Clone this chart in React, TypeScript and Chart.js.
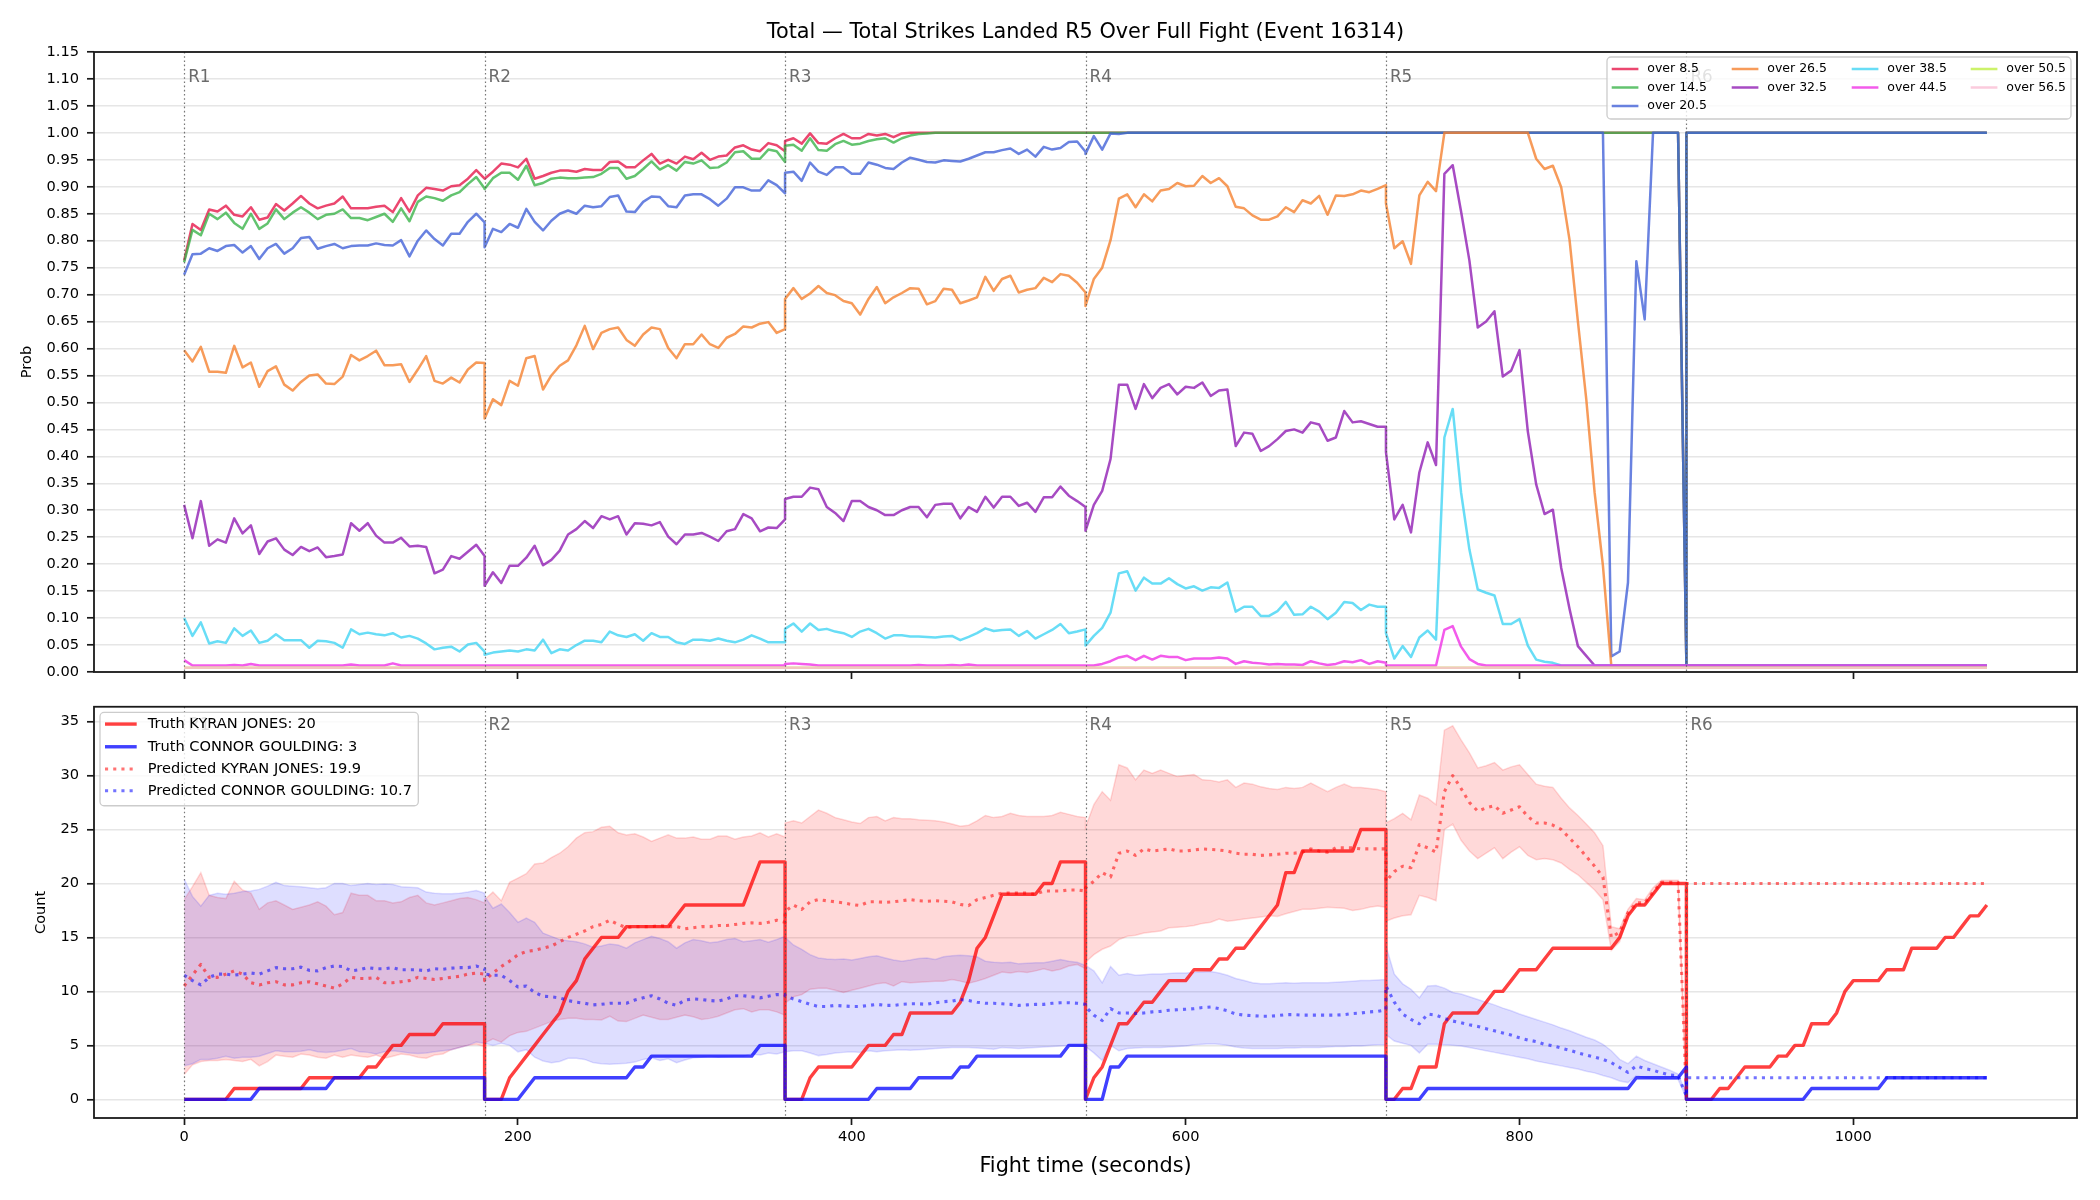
import React, { useEffect, useRef } from "react";
import { Chart, registerables } from "chart.js";

Chart.register(...registerables);

const FONT = "'DejaVu Sans', 'Liberation Sans', Arial, sans-serif";
Chart.defaults.font.family = FONT;
Chart.defaults.color = "#000";

// ---------------------------------------------------------------------------
// Fight timeline: each round is sampled every 5 s (37 samples incl. both ends)
// ---------------------------------------------------------------------------
const ROUND_STARTS = [0, 180, 360, 540, 720, 900];
const ROUND_LABELS = ["R1", "R2", "R3", "R4", "R5", "R6"];
const SAMPLE_STEP = 5;

const X_TICKS = [0, 200, 400, 600, 800, 1000];
const PROB_TICKS = [0, 0.05, 0.1, 0.15, 0.2, 0.25, 0.3, 0.35, 0.4, 0.45, 0.5, 0.55, 0.6, 0.65, 0.7, 0.75, 0.8, 0.85, 0.9, 0.95, 1, 1.05, 1.1, 1.15];
const COUNT_TICKS = [0, 5, 10, 15, 20, 25, 30, 35];

// Whole rounds where a line sits at a constant level
const SURE = [1, 1, 1, 1, 1, 1, 1, 1, 1, 1, 1, 1, 1, 1, 1, 1, 1, 1, 1, 1, 1, 1, 1, 1, 1, 1, 1, 1, 1, 1, 1, 1, 1, 1, 1, 1, 1];
const FLOOR = [0.012, 0.012, 0.012, 0.012, 0.012, 0.012, 0.012, 0.012, 0.012, 0.012, 0.012, 0.012, 0.012, 0.012, 0.012, 0.012, 0.012, 0.012, 0.012, 0.012, 0.012, 0.012, 0.012, 0.012, 0.012, 0.012, 0.012, 0.012, 0.012, 0.012, 0.012, 0.012, 0.012, 0.012, 0.012, 0.012, 0.012];
const DEEP_FLOOR = [0.008, 0.008, 0.008, 0.008, 0.008, 0.008, 0.008, 0.008, 0.008, 0.008, 0.008, 0.008, 0.008, 0.008, 0.008, 0.008, 0.008, 0.008, 0.008, 0.008, 0.008, 0.008, 0.008, 0.008, 0.008, 0.008, 0.008, 0.008, 0.008, 0.008, 0.008, 0.008, 0.008, 0.008, 0.008, 0.008, 0.008];
const SURE_UNTIL_BELL = [1, 1, 1, 1, 1, 1, 1, 1, 1, 1, 1, 1, 1, 1, 1, 1, 1, 1, 1, 1, 1, 1, 1, 1, 1, 1, 1, 1, 1, 1, 1, 1, 1, 1, 1, 1, 0.012];

// ---------------------------------------------------------------------------
// Over/under probabilities, one sub-array per round
// ---------------------------------------------------------------------------
const OVER_8_5 = [
  [0.763, 0.831, 0.820, 0.858, 0.854, 0.865, 0.848, 0.845, 0.862, 0.839, 0.843, 0.868, 0.856, 0.869, 0.883, 0.869, 0.860, 0.865, 0.869, 0.882, 0.860, 0.860, 0.860, 0.863, 0.865, 0.853, 0.879, 0.854, 0.884, 0.898, 0.896, 0.893, 0.901, 0.903, 0.915, 0.931, 0.915],
  [0.915, 0.928, 0.943, 0.941, 0.936, 0.952, 0.915, 0.920, 0.926, 0.930, 0.930, 0.928, 0.933, 0.931, 0.931, 0.946, 0.947, 0.936, 0.936, 0.949, 0.961, 0.943, 0.950, 0.943, 0.956, 0.951, 0.963, 0.950, 0.956, 0.958, 0.973, 0.977, 0.969, 0.966, 0.981, 0.977, 0.966],
  [0.985, 0.990, 0.980, 0.999, 0.981, 0.980, 0.990, 0.998, 0.990, 0.990, 0.998, 0.995, 0.998, 0.992, 0.999, 1, 1, 1, 1, 1, 1, 1, 1, 1, 1, 1, 1, 1, 1, 1, 1, 1, 1, 1, 1, 1, 1],
  SURE,
  SURE_UNTIL_BELL,
  SURE,
];
const OVER_14_5 = [
  [0.760, 0.820, 0.810, 0.850, 0.840, 0.852, 0.833, 0.822, 0.850, 0.822, 0.832, 0.858, 0.840, 0.852, 0.862, 0.852, 0.840, 0.848, 0.850, 0.858, 0.842, 0.842, 0.838, 0.844, 0.850, 0.835, 0.860, 0.836, 0.872, 0.882, 0.879, 0.874, 0.884, 0.890, 0.905, 0.918, 0.897],
  [0.896, 0.916, 0.926, 0.926, 0.913, 0.939, 0.903, 0.907, 0.915, 0.917, 0.916, 0.916, 0.917, 0.918, 0.924, 0.935, 0.935, 0.915, 0.920, 0.933, 0.947, 0.932, 0.940, 0.930, 0.946, 0.943, 0.949, 0.935, 0.936, 0.945, 0.964, 0.966, 0.952, 0.952, 0.969, 0.966, 0.946],
  [0.976, 0.978, 0.967, 0.990, 0.968, 0.967, 0.979, 0.985, 0.978, 0.980, 0.985, 0.988, 0.990, 0.982, 0.990, 0.995, 0.998, 0.999, 1, 1, 1, 1, 1, 1, 1, 1, 1, 1, 1, 1, 1, 1, 1, 1, 1, 1, 1],
  SURE,
  SURE_UNTIL_BELL,
  SURE,
];
const OVER_20_5 = [
  [0.737, 0.775, 0.776, 0.786, 0.781, 0.790, 0.792, 0.778, 0.790, 0.766, 0.786, 0.794, 0.776, 0.786, 0.805, 0.807, 0.785, 0.790, 0.794, 0.786, 0.790, 0.791, 0.791, 0.795, 0.792, 0.791, 0.801, 0.771, 0.800, 0.819, 0.803, 0.791, 0.813, 0.813, 0.835, 0.850, 0.834],
  [0.788, 0.822, 0.816, 0.831, 0.824, 0.859, 0.835, 0.819, 0.837, 0.850, 0.856, 0.850, 0.865, 0.862, 0.864, 0.881, 0.884, 0.854, 0.853, 0.872, 0.882, 0.881, 0.864, 0.862, 0.884, 0.886, 0.886, 0.877, 0.865, 0.878, 0.899, 0.899, 0.893, 0.893, 0.912, 0.903, 0.888],
  [0.926, 0.928, 0.911, 0.945, 0.928, 0.922, 0.936, 0.936, 0.924, 0.924, 0.945, 0.941, 0.935, 0.933, 0.945, 0.954, 0.950, 0.946, 0.945, 0.949, 0.948, 0.947, 0.952, 0.958, 0.964, 0.964, 0.968, 0.971, 0.961, 0.969, 0.956, 0.974, 0.969, 0.972, 0.983, 0.984, 0.965],
  [0.961, 0.994, 0.969, 0.999, 0.998, 1, 1, 1, 1, 1, 1, 1, 1, 1, 1, 1, 1, 1, 1, 1, 1, 1, 1, 1, 1, 1, 1, 1, 1, 1, 1, 1, 1, 1, 1, 1, 1],
  [1, 1, 1, 1, 1, 1, 1, 1, 1, 1, 1, 1, 1, 1, 1, 1, 1, 1, 1, 1, 1, 1, 1, 1, 1, 1, 1, 0.029, 0.038, 0.166, 0.762, 0.654, 1, 1, 1, 1, 0.012],
  SURE,
];
const OVER_26_5 = [
  [0.597, 0.576, 0.603, 0.557, 0.557, 0.555, 0.605, 0.565, 0.574, 0.529, 0.558, 0.567, 0.533, 0.522, 0.538, 0.550, 0.552, 0.535, 0.534, 0.548, 0.588, 0.578, 0.586, 0.596, 0.569, 0.569, 0.571, 0.538, 0.561, 0.586, 0.540, 0.535, 0.546, 0.537, 0.561, 0.574, 0.573],
  [0.470, 0.506, 0.495, 0.540, 0.531, 0.582, 0.586, 0.524, 0.550, 0.568, 0.578, 0.606, 0.642, 0.599, 0.629, 0.636, 0.639, 0.616, 0.605, 0.626, 0.639, 0.636, 0.601, 0.582, 0.608, 0.608, 0.626, 0.608, 0.601, 0.620, 0.627, 0.641, 0.639, 0.646, 0.649, 0.629, 0.636],
  [0.692, 0.712, 0.692, 0.702, 0.716, 0.703, 0.699, 0.688, 0.684, 0.663, 0.692, 0.714, 0.684, 0.695, 0.703, 0.712, 0.711, 0.682, 0.688, 0.711, 0.709, 0.684, 0.689, 0.695, 0.733, 0.707, 0.729, 0.735, 0.704, 0.709, 0.712, 0.731, 0.723, 0.738, 0.735, 0.722, 0.704],
  [0.679, 0.729, 0.750, 0.801, 0.878, 0.886, 0.862, 0.886, 0.873, 0.893, 0.896, 0.907, 0.901, 0.902, 0.920, 0.907, 0.916, 0.901, 0.863, 0.860, 0.847, 0.839, 0.839, 0.845, 0.862, 0.853, 0.875, 0.869, 0.883, 0.848, 0.884, 0.883, 0.886, 0.893, 0.890, 0.896, 0.903],
  [0.869, 0.786, 0.799, 0.757, 0.884, 0.909, 0.892, 1, 1, 1, 1, 1, 1, 1, 1, 1, 1, 1, 0.952, 0.933, 0.939, 0.899, 0.801, 0.650, 0.506, 0.333, 0.197, 0.012, 0.012, 0.012, 0.012, 0.012, 0.012, 0.012, 0.012, 0.012, 0.012],
  FLOOR,
];
const OVER_32_5 = [
  [0.310, 0.248, 0.317, 0.234, 0.246, 0.240, 0.285, 0.257, 0.272, 0.219, 0.242, 0.248, 0.227, 0.217, 0.232, 0.224, 0.231, 0.213, 0.215, 0.218, 0.276, 0.262, 0.276, 0.253, 0.240, 0.240, 0.249, 0.233, 0.234, 0.232, 0.183, 0.190, 0.215, 0.210, 0.223, 0.236, 0.215],
  [0.160, 0.185, 0.165, 0.197, 0.197, 0.212, 0.234, 0.198, 0.208, 0.225, 0.255, 0.265, 0.280, 0.267, 0.289, 0.283, 0.289, 0.255, 0.276, 0.275, 0.272, 0.278, 0.251, 0.237, 0.255, 0.255, 0.258, 0.251, 0.243, 0.261, 0.265, 0.293, 0.285, 0.261, 0.268, 0.267, 0.283],
  [0.321, 0.325, 0.325, 0.342, 0.339, 0.306, 0.295, 0.280, 0.317, 0.317, 0.306, 0.300, 0.291, 0.291, 0.300, 0.306, 0.306, 0.287, 0.310, 0.312, 0.312, 0.285, 0.306, 0.297, 0.325, 0.305, 0.325, 0.325, 0.308, 0.314, 0.297, 0.324, 0.324, 0.344, 0.327, 0.317, 0.306],
  [0.262, 0.310, 0.336, 0.395, 0.533, 0.533, 0.488, 0.534, 0.508, 0.527, 0.534, 0.515, 0.529, 0.527, 0.537, 0.512, 0.522, 0.524, 0.419, 0.444, 0.442, 0.410, 0.419, 0.432, 0.447, 0.450, 0.444, 0.463, 0.459, 0.429, 0.435, 0.484, 0.463, 0.465, 0.460, 0.455, 0.455],
  [0.408, 0.283, 0.310, 0.259, 0.370, 0.426, 0.384, 0.924, 0.940, 0.854, 0.763, 0.639, 0.650, 0.669, 0.548, 0.559, 0.597, 0.446, 0.348, 0.293, 0.301, 0.193, 0.117, 0.048, 0.030, 0.012, 0.012, 0.012, 0.012, 0.012, 0.012, 0.012, 0.012, 0.012, 0.012, 0.012, 0.012],
  FLOOR,
];
const OVER_38_5 = [
  [0.100, 0.067, 0.092, 0.053, 0.057, 0.054, 0.081, 0.067, 0.077, 0.054, 0.058, 0.070, 0.059, 0.059, 0.059, 0.045, 0.058, 0.057, 0.054, 0.045, 0.079, 0.070, 0.073, 0.070, 0.068, 0.072, 0.064, 0.067, 0.062, 0.053, 0.042, 0.045, 0.047, 0.038, 0.051, 0.054, 0.038],
  [0.032, 0.036, 0.038, 0.040, 0.038, 0.042, 0.040, 0.060, 0.035, 0.042, 0.040, 0.050, 0.058, 0.058, 0.055, 0.075, 0.068, 0.065, 0.070, 0.058, 0.072, 0.065, 0.065, 0.055, 0.052, 0.060, 0.060, 0.058, 0.062, 0.058, 0.055, 0.060, 0.068, 0.062, 0.055, 0.055, 0.055],
  [0.080, 0.090, 0.075, 0.090, 0.078, 0.080, 0.075, 0.072, 0.065, 0.075, 0.080, 0.072, 0.062, 0.068, 0.068, 0.066, 0.066, 0.065, 0.064, 0.066, 0.067, 0.059, 0.065, 0.072, 0.081, 0.076, 0.078, 0.079, 0.067, 0.076, 0.062, 0.070, 0.078, 0.089, 0.072, 0.075, 0.079],
  [0.049, 0.067, 0.082, 0.110, 0.183, 0.187, 0.151, 0.175, 0.164, 0.164, 0.174, 0.163, 0.155, 0.159, 0.151, 0.157, 0.156, 0.166, 0.112, 0.121, 0.121, 0.104, 0.104, 0.113, 0.130, 0.106, 0.107, 0.121, 0.112, 0.098, 0.110, 0.130, 0.128, 0.115, 0.125, 0.121, 0.121],
  [0.072, 0.025, 0.048, 0.028, 0.064, 0.077, 0.060, 0.435, 0.488, 0.333, 0.227, 0.153, 0.147, 0.142, 0.089, 0.089, 0.098, 0.049, 0.023, 0.019, 0.017, 0.012, 0.012, 0.012, 0.012, 0.012, 0.012, 0.012, 0.012, 0.012, 0.012, 0.012, 0.012, 0.012, 0.012, 0.012, 0.012],
  FLOOR,
];
const OVER_44_5 = [
  [0.022, 0.012, 0.012, 0.012, 0.012, 0.012, 0.013, 0.012, 0.015, 0.012, 0.012, 0.012, 0.012, 0.012, 0.012, 0.012, 0.012, 0.012, 0.012, 0.012, 0.014, 0.012, 0.012, 0.012, 0.012, 0.016, 0.012, 0.012, 0.012, 0.012, 0.012, 0.012, 0.012, 0.012, 0.012, 0.012, 0.012],
  FLOOR,
  [0.015, 0.016, 0.015, 0.014, 0.012, 0.012, 0.012, 0.012, 0.012, 0.012, 0.012, 0.012, 0.012, 0.012, 0.012, 0.012, 0.013, 0.012, 0.012, 0.012, 0.013, 0.012, 0.014, 0.012, 0.012, 0.012, 0.012, 0.012, 0.012, 0.012, 0.012, 0.012, 0.012, 0.012, 0.012, 0.012, 0.012],
  [0.012, 0.012, 0.015, 0.020, 0.027, 0.030, 0.022, 0.030, 0.023, 0.030, 0.028, 0.028, 0.022, 0.025, 0.025, 0.025, 0.027, 0.025, 0.015, 0.020, 0.017, 0.016, 0.014, 0.015, 0.014, 0.014, 0.013, 0.020, 0.016, 0.013, 0.015, 0.020, 0.018, 0.022, 0.015, 0.020, 0.017],
  [0.012, 0.012, 0.012, 0.012, 0.012, 0.012, 0.012, 0.078, 0.085, 0.047, 0.024, 0.015, 0.012, 0.012, 0.012, 0.012, 0.012, 0.012, 0.012, 0.012, 0.012, 0.012, 0.012, 0.012, 0.012, 0.012, 0.012, 0.012, 0.012, 0.012, 0.012, 0.012, 0.012, 0.012, 0.012, 0.012, 0.012],
  FLOOR,
];
const OVER_50_5 = [DEEP_FLOOR, DEEP_FLOOR, DEEP_FLOOR, DEEP_FLOOR, DEEP_FLOOR, DEEP_FLOOR];
const OVER_56_5 = [DEEP_FLOOR, DEEP_FLOOR, DEEP_FLOOR, DEEP_FLOOR, DEEP_FLOOR, DEEP_FLOOR];

const PROB_LABELS = ["over 8.5", "over 14.5", "over 20.5", "over 26.5", "over 32.5", "over 38.5", "over 44.5", "over 50.5", "over 56.5"];
const PROB_COLORS = [
  "rgba(230,25,75,0.8)",
  "rgba(60,180,75,0.8)",
  "rgba(67,99,216,0.8)",
  "rgba(245,130,49,0.8)",
  "rgba(145,30,180,0.8)",
  "rgba(66,212,244,0.8)",
  "rgba(240,50,230,0.8)",
  "rgba(191,239,69,0.8)",
  "rgba(250,190,212,0.8)",
];
const PROB_VALUES = [OVER_8_5, OVER_14_5, OVER_20_5, OVER_26_5, OVER_32_5, OVER_38_5, OVER_44_5, OVER_50_5, OVER_56_5];

// ---------------------------------------------------------------------------
// Strike counts per fighter (truth, prediction and prediction band)
// ---------------------------------------------------------------------------
const TRUTH_KYRAN = [
  [0, 0, 0, 0, 0, 0, 1, 1, 1, 1, 1, 1, 1, 1, 1, 2, 2, 2, 2, 2, 2, 2, 3, 3, 4, 5, 5, 6, 6, 6, 6, 7, 7, 7, 7, 7, 7],
  [0, 0, 0, 2, 3, 4, 5, 6, 7, 8, 10, 11, 13, 14, 15, 15, 15, 16, 16, 16, 16, 16, 16, 17, 18, 18, 18, 18, 18, 18, 18, 18, 20, 22, 22, 22, 22],
  [0, 0, 0, 2, 3, 3, 3, 3, 3, 4, 5, 5, 5, 6, 6, 8, 8, 8, 8, 8, 8, 9, 11, 14, 15, 17, 19, 19, 19, 19, 19, 20, 20, 22, 22, 22, 22],
  [0, 2, 3, 5, 7, 7, 8, 9, 9, 10, 11, 11, 11, 12, 12, 12, 13, 13, 14, 14, 15, 16, 17, 18, 21, 21, 23, 23, 23, 23, 23, 23, 23, 25, 25, 25, 25],
  [0, 0, 1, 1, 3, 3, 3, 7, 8, 8, 8, 8, 9, 10, 10, 11, 12, 12, 12, 13, 14, 14, 14, 14, 14, 14, 14, 14, 15, 17, 18, 18, 19, 20, 20, 20, 20],
  [0, 0, 0, 0, 1, 1, 2, 3, 3, 3, 3, 4, 4, 5, 5, 7, 7, 7, 8, 10, 11, 11, 11, 11, 12, 12, 12, 14, 14, 14, 14, 15, 15, 16, 17, 17, 18],
];
const TRUTH_CONNOR = [
  [0, 0, 0, 0, 0, 0, 0, 0, 0, 1, 1, 1, 1, 1, 1, 1, 1, 1, 2, 2, 2, 2, 2, 2, 2, 2, 2, 2, 2, 2, 2, 2, 2, 2, 2, 2, 2],
  [0, 0, 0, 0, 0, 1, 2, 2, 2, 2, 2, 2, 2, 2, 2, 2, 2, 2, 3, 3, 4, 4, 4, 4, 4, 4, 4, 4, 4, 4, 4, 4, 4, 5, 5, 5, 5],
  [0, 0, 0, 0, 0, 0, 0, 0, 0, 0, 0, 1, 1, 1, 1, 1, 2, 2, 2, 2, 2, 3, 3, 4, 4, 4, 4, 4, 4, 4, 4, 4, 4, 4, 5, 5, 5],
  [0, 0, 0, 3, 3, 4, 4, 4, 4, 4, 4, 4, 4, 4, 4, 4, 4, 4, 4, 4, 4, 4, 4, 4, 4, 4, 4, 4, 4, 4, 4, 4, 4, 4, 4, 4, 4],
  [0, 0, 0, 0, 0, 1, 1, 1, 1, 1, 1, 1, 1, 1, 1, 1, 1, 1, 1, 1, 1, 1, 1, 1, 1, 1, 1, 1, 1, 1, 2, 2, 2, 2, 2, 2, 3],
  [0, 0, 0, 0, 0, 0, 0, 0, 0, 0, 0, 0, 0, 0, 0, 1, 1, 1, 1, 1, 1, 1, 1, 1, 2, 2, 2, 2, 2, 2, 2, 2, 2, 2, 2, 2, 2],
];
const PRED_KYRAN = [
  [10.5, 11.5, 12.5, 11.3, 11.3, 11.6, 11.9, 11.6, 10.8, 10.6, 10.8, 10.9, 10.6, 10.6, 10.8, 10.9, 10.7, 10.5, 10.3, 10.7, 11.3, 11.2, 11.2, 11.3, 10.8, 10.8, 10.9, 11.0, 11.3, 11.2, 11.1, 11.2, 11.3, 11.4, 11.6, 11.7, 11.6],
  [11.0, 11.7, 12.3, 12.8, 13.4, 13.7, 13.8, 14.0, 14.2, 14.6, 15.0, 15.3, 15.6, 16.0, 16.2, 16.6, 16.2, 15.9, 16.0, 16.0, 16.0, 16.1, 16.0, 16.0, 15.8, 15.9, 16.0, 16.0, 16.1, 16.1, 16.2, 16.3, 16.35, 16.3, 16.4, 16.6, 16.4],
  [17.4, 18.0, 17.6, 18.3, 18.5, 18.4, 18.3, 18.2, 18.05, 17.95, 18.3, 18.3, 18.25, 18.3, 18.4, 18.5, 18.4, 18.35, 18.4, 18.35, 18.3, 18.05, 17.95, 18.5, 18.7, 18.9, 19.1, 19.1, 19.1, 19.1, 19.0, 19.3, 19.3, 19.3, 19.4, 19.4, 19.3],
  [19.6, 20.2, 21.0, 20.6, 22.8, 23.0, 22.6, 23.2, 23.0, 23.1, 23.2, 23.0, 23.0, 23.1, 23.2, 23.15, 23.1, 23.0, 22.8, 22.7, 22.7, 22.6, 22.65, 22.7, 22.8, 22.8, 22.9, 23.2, 23.0, 22.9, 23.3, 23.3, 23.3, 23.2, 23.2, 23.2, 23.2],
  [20.2, 21.1, 21.6, 21.45, 23.6, 23.3, 22.9, 28.5, 30.0, 28.8, 27.5, 26.7, 27.0, 27.2, 26.5, 26.8, 27.1, 26.2, 25.6, 25.6, 25.4, 25.0, 24.2, 23.4, 22.5, 21.6, 20.6, 15.0, 15.5, 17.3, 18.2, 18.2, 19.2, 20.1, 20.1, 20.1, 0.3],
  [20, 20, 20, 20, 20, 20, 20, 20, 20, 20, 20, 20, 20, 20, 20, 20, 20, 20, 20, 20, 20, 20, 20, 20, 20, 20, 20, 20, 20, 20, 20, 20, 20, 20, 20, 20, 20],
];
const PRED_CONNOR = [
  [11.5, 11.0, 10.6, 11.3, 11.6, 11.6, 11.5, 11.6, 11.7, 11.6, 11.9, 12.2, 12.1, 12.1, 12.25, 11.95, 11.9, 12.2, 12.35, 12.3, 11.9, 12.0, 12.2, 12.1, 12.1, 12.2, 12.0, 12.0, 12.0, 11.9, 12.1, 12.05, 12.15, 12.2, 12.2, 12.35, 12.1],
  [11.6, 11.5, 11.5, 11.0, 10.4, 10.5, 9.9, 9.55, 9.5, 9.4, 9.15, 9.0, 8.9, 8.75, 8.8, 8.9, 8.9, 8.9, 9.2, 9.4, 9.6, 9.3, 8.9, 8.7, 9.2, 9.3, 9.25, 9.15, 9.1, 9.3, 9.6, 9.6, 9.5, 9.4, 9.55, 9.7, 9.7],
  [9.6, 9.3, 9.05, 8.8, 8.6, 8.6, 8.7, 8.65, 8.6, 8.6, 8.7, 8.8, 8.7, 8.7, 8.8, 8.85, 8.85, 8.8, 8.95, 9.05, 9.1, 9.25, 9.15, 9.0, 8.9, 8.9, 8.85, 8.8, 8.7, 8.75, 8.8, 8.8, 8.9, 8.95, 8.95, 8.9, 8.8],
  [8.6, 7.8, 7.3, 8.4, 8.0, 8.0, 7.95, 8.0, 8.1, 8.15, 8.25, 8.3, 8.35, 8.4, 8.5, 8.55, 8.4, 8.2, 7.9, 7.8, 7.75, 7.7, 7.7, 7.75, 7.85, 7.85, 7.8, 7.8, 7.8, 7.8, 7.8, 7.85, 7.95, 8.0, 8.1, 8.15, 8.3],
  [10.5, 9.0, 7.9, 7.4, 7.0, 7.9, 7.8, 7.5, 7.25, 7.1, 6.9, 6.75, 6.55, 6.35, 6.15, 5.95, 5.7, 5.5, 5.35, 5.1, 4.95, 4.75, 4.55, 4.3, 4.1, 3.9, 3.7, 3.4, 2.95, 2.5, 3.1, 2.85, 2.7, 2.45, 2.25, 2.2, 0.3],
  [2, 2, 2, 2, 2, 2, 2, 2, 2, 2, 2, 2, 2, 2, 2, 2, 2, 2, 2, 2, 2, 2, 2, 2, 2, 2, 2, 2, 2, 2, 2, 2, 2, 2, 2, 2, 2],
];
const BAND_KYRAN_HIGH = [
  [18.5, 19.7, 21.0, 18.9, 18.7, 18.6, 20.2, 19.4, 19.1, 17.6, 18.2, 18.4, 18.0, 17.6, 17.8, 18.0, 18.3, 17.9, 17.1, 17.3, 19.1, 18.9, 18.9, 18.4, 18.4, 18.2, 18.3, 18.7, 18.9, 18.2, 18.0, 18.2, 18.4, 18.6, 18.7, 18.5, 18.2],
  [18.5, 19.2, 18.4, 20.1, 20.5, 20.9, 21.8, 21.9, 22.4, 22.8, 23.4, 24.2, 24.7, 24.8, 25.2, 25.3, 24.7, 24.5, 24.6, 24.3, 23.9, 24.2, 24.5, 24.2, 24.2, 24.3, 24.1, 24.1, 24.4, 24.4, 24.1, 24.3, 24.4, 24.7, 24.3, 24.6, 24.3],
  [25.6, 25.8, 25.6, 26.2, 26.8, 26.5, 26.1, 25.9, 25.7, 25.55, 26.1, 26.2, 25.8, 26.1, 26.0, 26.0, 25.9, 25.85, 25.8, 25.7, 25.5, 25.3, 25.4, 25.8, 26.3, 26.1, 26.2, 26.5, 26.3, 26.2, 26.2, 26.2, 26.3, 26.6, 26.4, 26.2, 26.1],
  [25.2, 27.3, 28.5, 27.7, 31.0, 30.7, 29.6, 30.5, 30.2, 30.5, 30.2, 29.9, 30.0, 30.1, 29.6, 29.55, 29.4, 29.6, 28.9, 29.3, 29.2, 28.95, 28.8, 28.7, 28.9, 28.8, 28.9, 29.3, 28.9, 28.5, 28.9, 29.2, 28.9, 28.9, 28.8, 28.7, 28.5],
  [25.6, 26.0, 26.5, 25.9, 28.2, 27.9, 27.3, 34.2, 34.6, 33.3, 32.1, 30.7, 30.9, 31.2, 30.5, 30.8, 31.0, 30.1, 29.2, 29.0, 28.9, 27.9, 27.0, 26.3, 25.5, 24.7, 23.5, 16.0, 15.8, 17.6, 18.6, 18.5, 19.6, 20.3, 20.3, 20.3, 0.6],
];
const BAND_KYRAN_LOW = [
  [2.3, 3.2, 3.5, 3.6, 3.6, 3.7, 3.6, 3.5, 3.7, 3.1, 3.5, 4.1, 4.0, 3.9, 4.2, 4.1, 3.9, 3.8, 4.1, 3.9, 4.1, 4.0, 3.9, 4.1, 3.8, 4.0, 4.2, 4.1, 3.9, 3.8, 4.1, 4.2, 4.6, 4.8, 5.0, 5.1, 4.9],
  [5.2, 5.6, 5.3, 5.9, 6.2, 6.3, 6.6, 6.9, 7.2, 7.4, 7.5, 7.5, 7.4, 7.4, 7.35, 7.7, 7.25, 7.2, 7.5, 7.8, 7.6, 7.4, 7.4, 7.6, 7.8, 7.65, 7.4, 7.5, 7.7, 8.0, 8.3, 8.4, 8.1, 8.3, 8.3, 8.1, 7.8],
  [8.9, 9.5, 9.7, 10.2, 10.3, 10.3, 10.1, 9.9, 10.1, 10.3, 10.5, 10.7, 10.8, 10.5, 10.9, 10.8, 10.85, 10.9, 10.95, 10.95, 11.1, 10.95, 10.75, 10.95, 11.2, 11.5, 11.8, 11.7, 11.85, 11.75, 11.9, 12.1, 11.9, 12.05, 12.35, 12.5, 12.1],
  [12.7, 13.4, 13.9, 14.2, 14.8, 15.1, 15.2, 15.4, 15.5, 15.6, 15.9, 15.95, 16.0, 16.1, 16.3, 16.4, 16.7, 16.5, 16.6, 16.7, 16.8, 16.9, 17.0, 16.95, 17.2, 17.4, 17.6, 17.6, 17.7, 17.8, 17.75, 17.7, 17.5, 17.6, 17.8, 17.9, 17.8],
  [16.5, 16.8, 17.0, 17.1, 18.9, 18.7, 18.4, 25.0, 25.5, 24.0, 23.0, 22.3, 22.8, 23.3, 22.3, 22.9, 23.4, 22.6, 22.2, 22.3, 22.2, 21.9, 21.3, 20.8, 20.1, 19.4, 18.5, 13.8, 14.6, 17.0, 18.0, 18.0, 19.0, 19.9, 19.9, 19.9, 0.1],
];
const BAND_CONNOR_HIGH = [
  [20.4, 18.8, 17.9, 18.9, 19.1, 19.0, 19.1, 19.25, 19.3, 19.45, 19.75, 20.1, 19.8, 19.75, 19.7, 19.6, 19.5, 19.6, 20.0, 20.0, 19.8, 19.9, 20.0, 19.9, 19.95, 19.9, 19.7, 19.65, 19.6, 19.2, 19.1, 19.05, 19.05, 19.1, 19.2, 19.35, 19.1],
  [18.8, 17.7, 18.1, 17.3, 16.4, 16.8, 16.4, 15.4, 15.1, 14.8, 14.7, 14.6, 14.4, 14.1, 14.2, 14.4, 14.3, 14.0, 14.5, 14.8, 15.1, 14.9, 14.6, 14.0, 14.5, 14.8, 14.7, 14.5, 14.6, 14.8, 14.9, 14.6, 14.7, 14.8, 14.55, 14.8, 15.1],
  [15.0, 14.3, 13.9, 13.4, 13.1, 13.0, 12.95, 13.0, 12.9, 13.05, 13.2, 13.3, 13.1, 12.9, 12.8, 12.9, 13.05, 13.1, 12.95, 13.2, 13.3, 13.35, 13.3, 13.2, 12.8, 12.7, 12.65, 12.7, 12.55, 12.6, 12.65, 12.65, 12.8, 12.95, 12.8, 12.7, 12.4],
  [12.4, 11.9, 10.8, 12.3, 11.5, 11.65, 11.5, 11.55, 11.6, 11.6, 11.65, 11.7, 11.7, 11.75, 11.8, 11.85, 11.7, 11.5, 11.2, 11.0, 10.8, 10.7, 10.7, 10.75, 10.8, 10.75, 10.8, 10.8, 10.8, 10.8, 10.85, 10.9, 10.95, 11.0, 11.0, 11.05, 11.1],
  [14.2, 11.6, 10.7, 10.2, 9.4, 10.5, 10.55, 10.3, 9.9, 9.75, 9.5, 9.25, 9.0, 8.75, 8.45, 8.2, 7.9, 7.65, 7.4, 7.15, 6.9, 6.6, 6.35, 6.05, 5.75, 5.5, 5.1, 4.5, 3.7, 3.3, 4.0, 3.6, 3.3, 3.0, 2.7, 2.35, 0.5],
];
const BAND_CONNOR_LOW = [
  [3.1, 3.3, 3.7, 3.7, 3.8, 4.0, 3.8, 3.9, 3.9, 4.0, 4.25, 4.5, 4.4, 4.4, 4.45, 4.6, 4.4, 4.35, 4.4, 4.55, 4.7, 4.4, 4.35, 4.2, 4.4, 4.5, 4.4, 4.3, 4.25, 4.3, 4.4, 4.5, 4.6, 4.8, 5.0, 5.3, 5.2],
  [5.2, 5.0, 5.2, 5.0, 4.4, 4.6, 3.9, 3.55, 3.4, 3.5, 3.8, 3.8, 3.7, 3.4, 3.3, 3.25, 3.3, 3.35, 3.45, 3.7, 3.85, 3.6, 3.75, 3.4, 3.65, 3.85, 3.9, 4.0, 3.9, 3.95, 4.0, 4.0, 4.2, 4.1, 4.3, 4.2, 4.4],
  [4.4, 4.5, 4.5, 4.3, 4.05, 4.15, 4.3, 4.35, 4.4, 4.35, 4.5, 4.4, 4.5, 4.55, 4.6, 4.55, 4.6, 4.65, 4.7, 4.75, 4.8, 4.8, 4.8, 4.75, 4.7, 4.65, 4.8, 4.75, 4.7, 4.75, 4.8, 4.85, 4.9, 4.95, 5.0, 5.0, 4.9],
  [4.9, 4.3, 3.6, 5.0, 4.5, 4.7, 4.75, 4.8, 4.8, 4.8, 4.85, 4.9, 4.95, 5.05, 5.1, 5.15, 5.1, 5.0, 4.85, 4.75, 4.7, 4.7, 4.7, 4.7, 4.75, 4.75, 4.8, 4.8, 4.8, 4.85, 4.9, 4.9, 4.95, 4.95, 5.0, 5.05, 5.05],
  [6.0, 5.4, 5.2, 5.0, 4.3, 5.1, 5.1, 5.05, 5.0, 4.95, 4.8, 4.65, 4.5, 4.35, 4.2, 4.05, 3.9, 3.75, 3.55, 3.4, 3.25, 3.1, 2.95, 2.8, 2.6, 2.45, 2.2, 2.0, 1.7, 1.55, 2.2, 2.0, 1.9, 1.85, 1.85, 1.85, 0.1],
];

const COUNT_LEGEND = [
  { label: "Truth KYRAN JONES: 20", color: "rgba(255,0,0,0.75)", width: 3.4, dash: [] as number[] },
  { label: "Truth CONNOR GOULDING: 3", color: "rgba(0,0,255,0.75)", width: 3.4, dash: [] as number[] },
  { label: "Predicted KYRAN JONES: 19.9", color: "rgba(255,0,0,0.55)", width: 3.1, dash: [3.1, 5.1] },
  { label: "Predicted CONNOR GOULDING: 10.7", color: "rgba(0,0,255,0.55)", width: 3.1, dash: [3.1, 5.1] },
];

const TITLE = "Total \u2014 Total Strikes Landed R5 Over Full Fight (Event 16314)";

// ---------------------------------------------------------------------------
const toPoints = (rounds: number[][]) =>
  rounds.flatMap((vals, r) => vals.map((y, k) => ({ x: ROUND_STARTS[r] + k * SAMPLE_STEP, y })));

const TICK_FONT = { family: FONT, size: 14.6 };

function drawRounds(chart: any, labelOffset: number) {
  const { ctx, chartArea: a, scales } = chart;
  const xs = scales.x;
  ctx.save();
  ctx.beginPath();
  ctx.rect(a.left, a.top, a.right - a.left, a.bottom - a.top);
  ctx.clip();
  ctx.strokeStyle = "rgba(85,85,85,0.8)";
  ctx.lineWidth = 1.2;
  ctx.setLineDash([1.6, 2.6]);
  ROUND_STARTS.forEach((t) => {
    const px = Math.round(xs.getPixelForValue(t)) + 0.5;
    ctx.beginPath();
    ctx.moveTo(px, a.top);
    ctx.lineTo(px, a.bottom);
    ctx.stroke();
  });
  ctx.setLineDash([]);
  ctx.fillStyle = "#6b6b6b";
  ctx.font = `16.8px ${FONT}`;
  ctx.textAlign = "left";
  ctx.textBaseline = "middle";
  ROUND_STARTS.forEach((t, i) => {
    ctx.fillText(ROUND_LABELS[i], xs.getPixelForValue(t) + 4, a.top + labelOffset);
  });
  ctx.restore();
}

function drawFrame(chart: any) {
  const { ctx, chartArea: a } = chart;
  ctx.save();
  ctx.strokeStyle = "#1a1a1a";
  ctx.lineWidth = 1.8;
  ctx.strokeRect(a.left, a.top, a.right - a.left, a.bottom - a.top);
  ctx.restore();
}

function drawLegendBox(ctx: any, x: number, y: number, w: number, h: number) {
  ctx.save();
  ctx.beginPath();
  ctx.roundRect(x, y, w, h, 4);
  ctx.fillStyle = "rgba(255,255,255,0.8)";
  ctx.fill();
  ctx.strokeStyle = "#cccccc";
  ctx.lineWidth = 1.3;
  ctx.stroke();
  ctx.restore();
}

function drawHandle(ctx: any, x: number, y: number, len: number, color: string, width: number, dash: number[]) {
  ctx.save();
  ctx.strokeStyle = color;
  ctx.lineWidth = width;
  ctx.setLineDash(dash);
  ctx.beginPath();
  ctx.moveTo(x, y);
  ctx.lineTo(x + len, y);
  ctx.stroke();
  ctx.restore();
}

const probPlugin = {
  id: "probDecor",
  afterDatasetsDraw(chart: any) {
    drawRounds(chart, 25.8);
    drawFrame(chart);
  },
  afterDraw(chart: any) {
    const { ctx, chartArea: a } = chart;
    // title
    ctx.save();
    ctx.fillStyle = "#000";
    ctx.font = `20.8px ${FONT}`;
    ctx.textAlign = "center";
    ctx.textBaseline = "middle";
    ctx.fillText(TITLE, (a.left + a.right) / 2, 33);
    ctx.restore();
    // legend: four columns, filled column by column
    const w = 464;
    const h = 62;
    const bx = a.right - 6 - w;
    const by = a.top + 5;
    drawLegendBox(ctx, bx, by, w, h);
    const colX = [4.7, 124.7, 244.7, 363.7];
    const rowY = [12, 30.5, 49];
    const columns = [[0, 1, 2], [3, 4], [5, 6], [7, 8]];
    ctx.save();
    ctx.font = `12.5px ${FONT}`;
    ctx.fillStyle = "#000";
    ctx.textAlign = "left";
    ctx.textBaseline = "middle";
    columns.forEach((col, c) => {
      col.forEach((idx, r) => {
        const hx = bx + colX[c];
        const hy = by + rowY[r];
        drawHandle(ctx, hx, hy, 26.7, PROB_COLORS[idx], 2.5, []);
        ctx.fillText(PROB_LABELS[idx], hx + 35.6, hy);
      });
    });
    ctx.restore();
  },
};

const countPlugin = {
  id: "countDecor",
  afterDatasetsDraw(chart: any) {
    drawRounds(chart, 18.5);
    drawFrame(chart);
  },
  afterDraw(chart: any) {
    const { ctx, chartArea: a } = chart;
    const bx = a.left + 6;
    const by = a.top + 5.7;
    drawLegendBox(ctx, bx, by, 318.3, 93.3);
    const rowY = [11.6, 34.3, 56.6, 78.3];
    ctx.save();
    ctx.font = `14.6px ${FONT}`;
    ctx.fillStyle = "#000";
    ctx.textAlign = "left";
    ctx.textBaseline = "middle";
    COUNT_LEGEND.forEach((it, i) => {
      const hx = bx + 5;
      const hy = by + rowY[i];
      drawHandle(ctx, hx, hy, 31.7, it.color, it.width, it.dash);
      ctx.fillText(it.label, hx + 42.7, hy);
    });
    ctx.restore();
  },
};

const xScale = (showLabels: boolean, height: number) => ({
  type: "linear",
  min: -54,
  max: 1134,
  afterBuildTicks: (s: any) => {
    s.ticks = X_TICKS.map((v) => ({ value: v }));
  },
  afterFit: (s: any) => {
    s.height = height;
  },
  ticks: {
    display: showLabels,
    autoSkip: false,
    maxRotation: 0,
    font: TICK_FONT,
    color: "#000",
    padding: 3,
    callback: (v: any) => String(v),
  },
  grid: { drawOnChartArea: false, drawTicks: true, tickLength: 7, tickColor: "#1a1a1a", tickWidth: 1.7 },
  border: { display: false },
  title: showLabels
    ? { display: true, text: "Fight time (seconds)", font: { family: FONT, size: 20.8 }, color: "#000", padding: { top: 0, bottom: 20.5 } }
    : { display: false },
});

const yScale = (min: number, max: number, ticks: number[], fmt: (v: number) => string, title: string, titlePad: number) => ({
  type: "linear",
  min,
  max,
  afterBuildTicks: (s: any) => {
    s.ticks = ticks.map((v) => ({ value: v }));
  },
  afterFit: (s: any) => {
    s.width = 94;
  },
  ticks: { autoSkip: false, font: TICK_FONT, color: "#000", padding: 8, callback: (v: any) => fmt(Number(v)) },
  grid: { color: "rgba(176,176,176,0.32)", lineWidth: 1.6, drawTicks: true, tickLength: 7, tickColor: "#1a1a1a", tickWidth: 1.7 },
  border: { display: false },
  title: { display: true, text: title, font: { family: FONT, size: 14.6 }, color: "#000", padding: { top: titlePad, bottom: 0 } },
});

function probConfig(): any {
  return {
    type: "line",
    data: {
      datasets: PROB_VALUES.map((rounds, i) => ({
        label: PROB_LABELS[i],
        data: toPoints(rounds),
        borderColor: PROB_COLORS[i],
        backgroundColor: PROB_COLORS[i],
        borderWidth: 2.5,
        borderJoinStyle: "round",
        pointRadius: 0,
        tension: 0,
        fill: false,
        order: PROB_VALUES.length - i,
      })),
    },
    options: {
      animation: false,
      responsive: false,
      maintainAspectRatio: false,
      devicePixelRatio: 1,
      events: [],
      layout: { padding: { top: 52, right: 23, left: 0, bottom: 0 } },
      plugins: { legend: { display: false }, tooltip: { enabled: false }, title: { display: false } },
      scales: {
        x: xScale(false, 18),
        y: yScale(0, 1.15, PROB_TICKS, (v) => v.toFixed(2), "Prob", 18.3),
      },
    },
    plugins: [probPlugin],
  };
}

function countConfig(): any {
  const line = (data: number[][], color: string, width: number, dash: number[], order: number) => ({
    data: toPoints(data),
    borderColor: color,
    borderWidth: width,
    borderDash: dash,
    borderJoinStyle: "round",
    pointRadius: 0,
    tension: 0,
    fill: false,
    order,
  });
  const edge = (data: number[][], color: string, fill: any, order: number) => ({
    data: toPoints(data),
    borderColor: color,
    backgroundColor: color,
    borderWidth: 1.5,
    pointRadius: 0,
    tension: 0,
    fill,
    order,
  });
  return {
    type: "line",
    data: {
      datasets: [
        edge(BAND_KYRAN_HIGH, "rgba(255,0,0,0.15)", "+1", 20),
        edge(BAND_KYRAN_LOW, "rgba(255,0,0,0.15)", false, 19),
        edge(BAND_CONNOR_HIGH, "rgba(0,0,255,0.13)", "+1", 18),
        edge(BAND_CONNOR_LOW, "rgba(0,0,255,0.13)", false, 17),
        line(TRUTH_KYRAN, COUNT_LEGEND[0].color, 3.4, [], 6),
        line(TRUTH_CONNOR, COUNT_LEGEND[1].color, 3.4, [], 5),
        line(PRED_KYRAN, COUNT_LEGEND[2].color, 3.1, [3.1, 5.1], 4),
        line(PRED_CONNOR, COUNT_LEGEND[3].color, 3.1, [3.1, 5.1], 3),
      ],
    },
    options: {
      animation: false,
      responsive: false,
      maintainAspectRatio: false,
      devicePixelRatio: 1,
      events: [],
      layout: { padding: { top: 16, right: 23, left: 0, bottom: 0 } },
      plugins: { legend: { display: false }, tooltip: { enabled: false }, title: { display: false } },
      scales: {
        x: xScale(true, 82),
        y: yScale(-1.73, 36.37, COUNT_TICKS, (v) => String(v), "Count", 32.8),
      },
    },
    plugins: [countPlugin],
  };
}

export default function App() {
  const topRef = useRef<HTMLCanvasElement | null>(null);
  const bottomRef = useRef<HTMLCanvasElement | null>(null);

  useEffect(() => {
    document.body.style.margin = "0";
    document.body.style.background = "#fff";
    const top = new Chart(topRef.current as HTMLCanvasElement, probConfig());
    const bottom = new Chart(bottomRef.current as HTMLCanvasElement, countConfig());
    return () => {
      top.destroy();
      bottom.destroy();
    };
  }, []);

  return (
    <div style={{ position: "relative", width: 2100, height: 1200, background: "#fff", overflow: "hidden" }}>
      <canvas
        ref={topRef}
        width={2100}
        height={690}
        style={{ position: "absolute", left: 0, top: 0, width: 2100, height: 690 }}
      />
      <canvas
        ref={bottomRef}
        width={2100}
        height={510}
        style={{ position: "absolute", left: 0, top: 690, width: 2100, height: 510 }}
      />
    </div>
  );
}
